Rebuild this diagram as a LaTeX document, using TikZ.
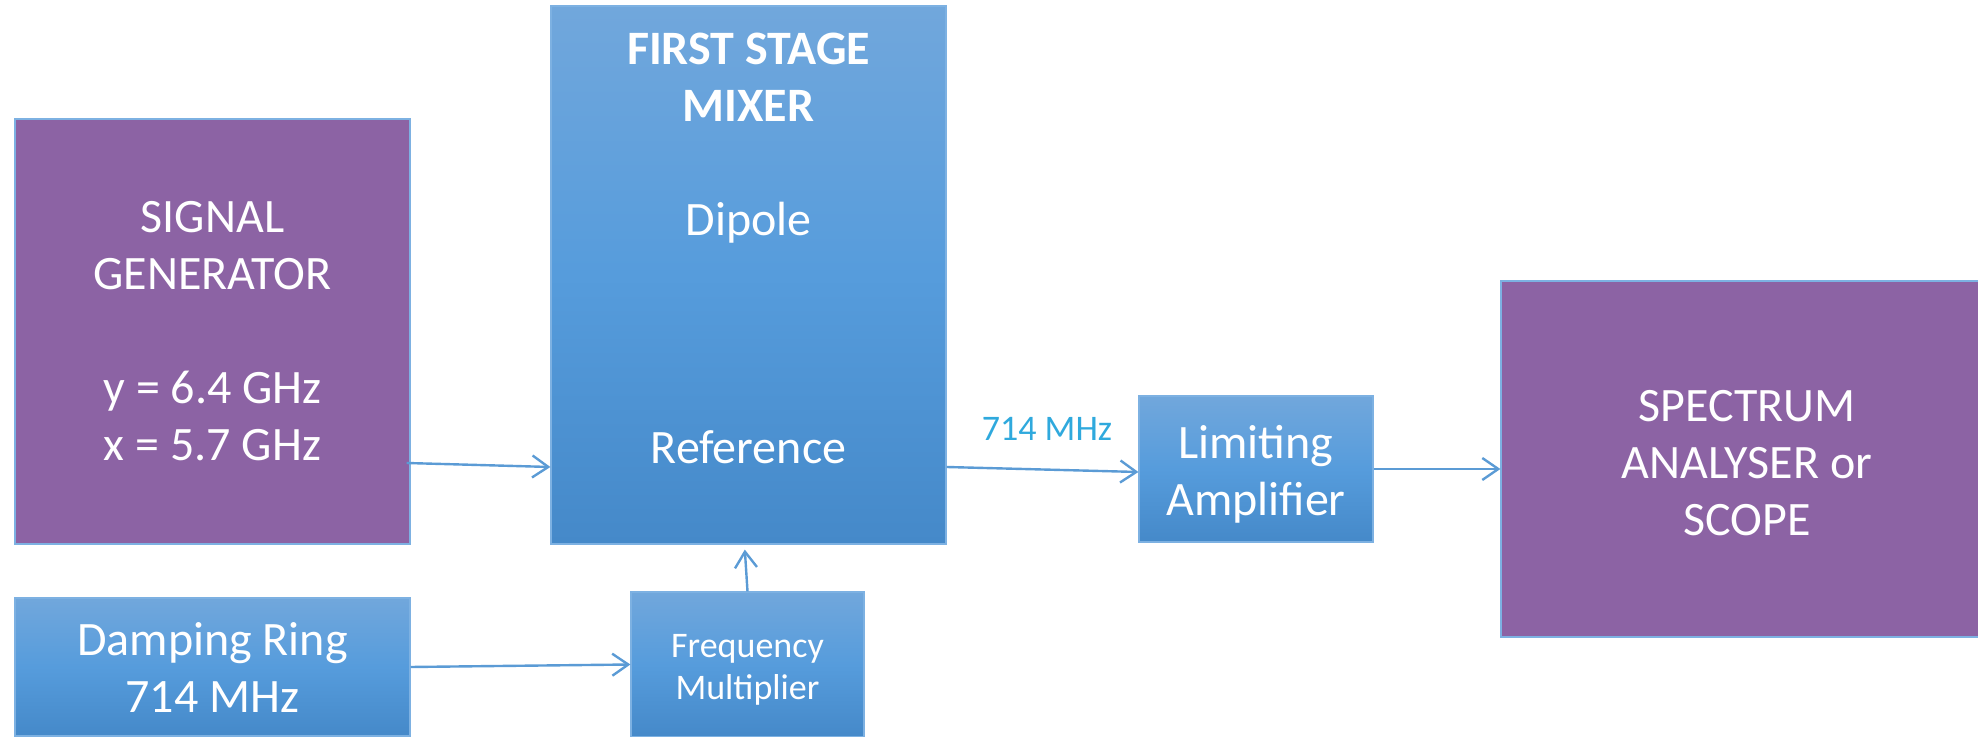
\documentclass[tikz,border=0pt]{standalone}
\usepackage{fontspec}
\setmainfont{Carlito}
\usetikzlibrary{arrows.meta, shadings}
\definecolor{BoxPurple}{HTML}{8C63A4}
\definecolor{BoxTop}{HTML}{71A7DC}
\definecolor{BoxMid}{HTML}{569CDC}
\definecolor{BoxBottom}{HTML}{4589C9}
\definecolor{BoxEdge}{HTML}{7DB1E2}
\definecolor{LinkBlue}{HTML}{5B9BD5}
\definecolor{LabelCyan}{HTML}{2FA9DD}

\begin{document}
\begin{tikzpicture}[x=0.5pt, y=-0.5pt,
    bigtext/.style={font=\fontsize{24}{28.5}\selectfont},
    smalltext/.style={font=\fontsize{18}{21}\selectfont},
    boxtext/.style={text=white, align=center, inner sep=0pt},
    purplebox/.style={draw=BoxEdge, line width=0.6pt, fill=BoxPurple, boxtext, bigtext},
    bluebox/.style={draw=BoxEdge, line width=0.6pt, top color=BoxTop, bottom color=BoxBottom, middle color=BoxMid, boxtext, bigtext},
    link/.style={LinkBlue, line width=1.2pt, -{Straight Barb[length=8pt, width=11pt]}}]

    % Page frame (pixel grid of the reference, y pointing down)
    \useasboundingbox (0,0) rectangle (1978,737);
    \clip (0,0) rectangle (1978,737);

    % Source boxes
    \node[purplebox, minimum width=197.5pt, minimum height=212.5pt] (siggen) at (212.5,331.5) {SIGNAL\\GENERATOR\\[28.5pt]y = 6.4 GHz\\x = 5.7 GHz};
    \node[bluebox, minimum width=197.5pt, minimum height=69pt] (damping) at (212.5,667) {Damping Ring\\714 MHz};

    % Mixer and its texts
    \node[bluebox, minimum width=197.5pt, minimum height=269pt] (mixer) at (748.5,275) {};
    \node[boxtext, bigtext] (mixtext) at (748.5,248.5) {\textbf{FIRST STAGE}\\\textbf{MIXER}\\[28.5pt]Dipole\\[85.5pt]Reference};
    \node[bluebox, minimum width=116.5pt, minimum height=72.5pt] (freqmult) at (747.5,664.5) {};
    \node[boxtext, smalltext] (freqtext) at (747.5,670) {Frequency\\Multiplier};

    % Output chain
    \node[bluebox, minimum width=117pt, minimum height=73pt] (limamp) at (1256,469) {};
    \node[boxtext, bigtext] (limtext) at (1256,474) {Limiting\\Amplifier};
    \node[purplebox, minimum width=246pt, minimum height=178pt] (spectrum) at (1747,459) {};
    \node[boxtext, bigtext] (spectext) at (1747,463) {SPECTRUM\\ANALYSER or\\SCOPE};
    \node[smalltext, text=LabelCyan, inner sep=0pt] (iflabel) at (1047,429) {714 MHz};

    % Connections
    \draw[link] ([xshift=-2pt, yshift=-65.75pt]siggen.east) -- ([yshift=-96pt]mixer.west);
    \draw[link] ([yshift=-96pt]mixer.east) -- ([yshift=-1.5pt]limamp.west);
    \draw[link] (limamp.east) -- ([yshift=-5pt]spectrum.west);
    \draw[link] (damping.east) -- (freqmult.west);
    \draw[link, shorten >=2.5pt] (freqmult.north) -- ([xshift=-2pt]mixer.south);
\end{tikzpicture}
\end{document}
